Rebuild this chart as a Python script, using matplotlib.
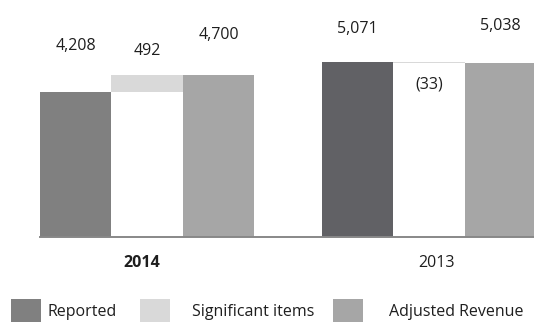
import matplotlib.pyplot as plt
from matplotlib.patches import Rectangle

plt.rcParams['font.family'] = ['Open Sans', 'DejaVu Sans']

years = ['2014', '2013']
reported = [4208, 5071]
significant = [492, -33]
adjusted = [4700, 5038]

reported_colors = ['#808080', '#616165']
sig_color = '#d9d9d9'
adj_color = '#a6a6a6'
text_color = '#1e1e1e'
fs = 11.5

fig = plt.figure(figsize=(5.34, 3.22), dpi=100)
ax = fig.add_axes([0.0749, 0.264, 0.9251, 0.736])

w = 0.2535
x = [0, 1]

for i in range(2):
    # reported revenue
    ax.bar(x[i] - w, reported[i], width=w, color=reported_colors[i], linewidth=0)
    # significant items float between reported and adjusted
    lo = min(reported[i], adjusted[i])
    ax.bar(x[i], abs(significant[i]), bottom=lo, width=w, color=sig_color, linewidth=0)
    # adjusted revenue
    ax.bar(x[i] + w, adjusted[i], width=w, color=adj_color, linewidth=0)

def fmt(v):
    return f'({abs(v):,})' if v < 0 else f'{v:,}'

# value labels
lab_kw = dict(textcoords='offset points', ha='center', va='center', fontsize=fs, color=text_color)
ax.annotate(fmt(reported[0]), (x[0] - w, reported[0]), xytext=(0, 33), **lab_kw)
ax.annotate(fmt(significant[0]), (x[0], adjusted[0]), xytext=(0, 17), **lab_kw)
ax.annotate(fmt(adjusted[0]), (x[0] + w, adjusted[0]), xytext=(0, 29), **lab_kw)
ax.annotate(fmt(reported[1]), (x[1] - w, reported[1]), xytext=(0, 24), **lab_kw)
ax.annotate(fmt(significant[1]), (x[1], reported[1]), xytext=(0, -16), **lab_kw)
ax.annotate(fmt(adjusted[1]), (x[1] + w, adjusted[1]), xytext=(0, 27), **lab_kw)

ax.set_xlim(-1.5 * w, 1.372)
ax.set_ylim(0, 6878)
for s in ['top', 'right', 'left']:
    ax.spines[s].set_visible(False)
ax.spines['bottom'].set_color('#888888')
ax.spines['bottom'].set_linewidth(1.4)
ax.set_yticks([])
# year labels sit a little off the group centres
ax.set_xticks([-0.018, 1.025])
ax.set_xticklabels(years, fontsize=fs, color=text_color)
ax.get_xticklabels()[0].set_fontweight('bold')
ax.tick_params(axis='x', length=0, pad=13)

# legend drawn in figure pixels
W, H = 534, 322
legend_items = [
    ('Reported', reported_colors[0], 11, 47),
    ('Significant items', sig_color, 140, 192),
    ('Adjusted Revenue', adj_color, 333, 389),
]
for label, color, sx, tx in legend_items:
    fig.add_artist(Rectangle((sx / W, 0), 30 / W, 23 / H, transform=fig.transFigure,
                             facecolor=color, edgecolor='none'))
    fig.text(tx / W, 10 / H, label, ha='left', va='center', fontsize=fs, color=text_color)

fig.savefig('out.png', dpi=100)
